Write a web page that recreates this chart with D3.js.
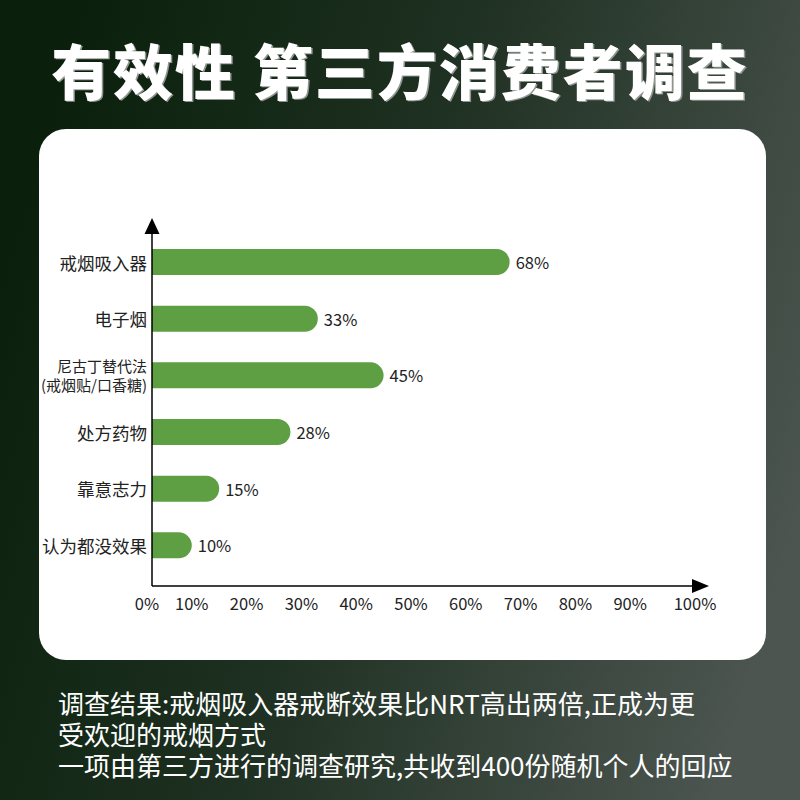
<!DOCTYPE html>
<html>
<head>
<meta charset="utf-8">
<script src="https://cdn.jsdelivr.net/npm/d3@7"></script>
<style>
  body { margin: 0; background: #1a2a1d; }
  svg { display: block; font-family: "Noto Sans CJK SC", "Noto Sans", sans-serif; }
</style>
</head>
<body>
<div id="chart"></div>
<script>
// chart data
const categories = ["戒烟吸入器", "电子烟", "尼古丁替代法\n(戒烟贴/口香糖)", "处方药物", "靠意志力", "认为都没效果"];
const values = [68, 33, 45, 28, 15, 10];
const tickValues = [0, 10, 20, 30, 40, 50, 60, 70, 80, 90, 100];
const title = "有效性 第三方消费者调查";
const notes = [
    "调查结果:戒烟吸入器戒断效果比NRT高出两倍,正成为更",
    "受欢迎的戒烟方式",
    "一项由第三方进行的调查研究,共收到400份随机个人的回应"
];

const width = 800;
const height = 800;
const axisX = 152;   // y axis line
const axisY = 586;   // x axis line

const svg = d3.select("#chart")
    .append("svg")
    .attr("width", width)
    .attr("height", height);

// background gradient
const defs = svg.append("defs");
const grad = defs.append("linearGradient")
    .attr("id", "bg")
    .attr("x1", 0).attr("y1", 0.35)
    .attr("x2", 1).attr("y2", 0.65);
grad.append("stop").attr("offset", "0%").attr("stop-color", "#0a200c");
grad.append("stop").attr("offset", "45%").attr("stop-color", "#1f3122");
grad.append("stop").attr("offset", "100%").attr("stop-color", "#4c5550");

svg.append("rect")
    .attr("width", width)
    .attr("height", height)
    .attr("fill", "url(#bg)");

// title with a soft grey shadow
svg.append("text")
    .attr("x", 401.5).attr("y", 69.5)
    .attr("text-anchor", "middle")
    .attr("dominant-baseline", "central")
    .style("font-size", "60px")
    .style("font-weight", "900")
    .style("letter-spacing", "2px")
    .attr("fill", "#8f9590")
    .text(title);
svg.append("text")
    .attr("x", 400).attr("y", 68)
    .attr("text-anchor", "middle")
    .attr("dominant-baseline", "central")
    .style("font-size", "60px")
    .style("font-weight", "900")
    .style("letter-spacing", "2px")
    .attr("fill", "#fff")
    .text(title);

// white card
svg.append("rect")
    .attr("x", 39).attr("y", 129)
    .attr("width", 727).attr("height", 531)
    .attr("rx", 27)
    .attr("fill", "#fff");

// scales
const x = d3.scaleLinear()
    .domain([0, 100])
    .range([137, 685]);

const y = d3.scalePoint()
    .domain(categories)
    .range([233.7, 573.7])
    .padding(0.5);

const barH = 26;
const r = barH / 2;

// bars: square on the axis side, round on the right
const g = svg.append("g");
g.selectAll("path.bar")
    .data(values)
    .enter()
    .append("path")
    .attr("class", "bar")
    .attr("fill", "#5e9f44")
    .attr("d", (d, i) => {
        const x0 = axisX;
        const x1 = x(d);
        const yc = y(categories[i]);
        const p = d3.path();
        p.moveTo(x0, yc - r);
        p.lineTo(x1 - r, yc - r);
        p.arc(x1 - r, yc, r, -Math.PI / 2, Math.PI / 2);
        p.lineTo(x0, yc + r);
        p.closePath();
        return p.toString();
    });

// value labels
g.selectAll("text.val")
    .data(values)
    .enter()
    .append("text")
    .attr("class", "val")
    .attr("x", d => x(d) + 6)
    .attr("y", (d, i) => y(categories[i]))
    .attr("dominant-baseline", "central")
    .style("font-size", "16.5px")
    .attr("fill", "#222")
    .text(d => d + "%");

// category labels
const cat = g.selectAll("text.cat")
    .data(categories)
    .enter()
    .append("text")
    .attr("class", "cat")
    .attr("text-anchor", "end")
    .attr("fill", "#222")
    .style("font-size", d => d.includes("\n") ? "15px" : "17.5px");

cat.each(function(d) {
    const lines = d.split("\n");
    const t = d3.select(this);
    const lh = 19;
    lines.forEach((ln, k) => {
        t.append("tspan")
            .attr("x", 147)
            .attr("y", y(d) + (k - (lines.length - 1) / 2) * lh)
            .attr("dominant-baseline", "central")
            .text(ln);
    });
});

// axes with arrow heads
g.append("line")
    .attr("x1", axisX).attr("y1", 230)
    .attr("x2", axisX).attr("y2", axisY)
    .attr("stroke", "#000").attr("stroke-width", 1.5);
g.append("line")
    .attr("x1", axisX).attr("y1", axisY)
    .attr("x2", 695).attr("y2", axisY)
    .attr("stroke", "#000").attr("stroke-width", 1.5);
g.append("path")
    .attr("d", `M${axisX},218 L${axisX - 7.5},234 L${axisX + 7.5},234 Z`)
    .attr("fill", "#000");
g.append("path")
    .attr("d", `M709,${axisY} L692,${axisY - 7} L692,${axisY + 7} Z`)
    .attr("fill", "#000");

// tick labels
g.selectAll("text.tick")
    .data(tickValues)
    .enter()
    .append("text")
    .attr("class", "tick")
    .attr("x", d => x(d) + (d === 0 ? 10 : 0) + (d === 100 ? 10 : 0))
    .attr("y", 603)
    .attr("text-anchor", "middle")
    .attr("dominant-baseline", "central")
    .style("font-size", "16.5px")
    .attr("fill", "#222")
    .text(d => d + "%");

// notes under the card, one text block with a line per note
const noteText = svg.append("text")
    .attr("fill", "#fff")
    .style("font-size", "26px");
noteText.selectAll("tspan")
    .data(notes)
    .enter()
    .append("tspan")
    .attr("x", 58)
    .attr("y", (d, i) => 702 + i * 31)
    .attr("dominant-baseline", "central")
    .text(d => d);
</script>
</body>
</html>
